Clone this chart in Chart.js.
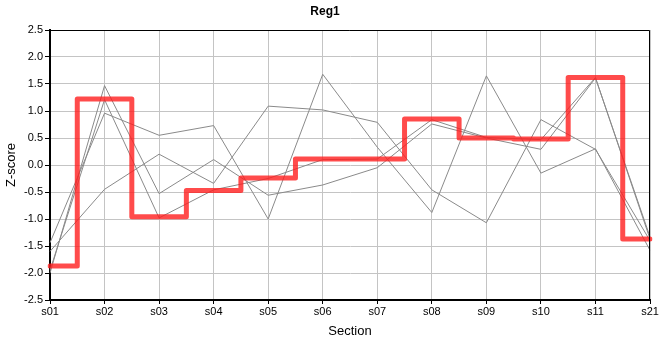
<!DOCTYPE html>
<html>
<head>
<meta charset="utf-8">
<script src="https://cdn.jsdelivr.net/npm/chart.js@4"></script>
<style>
  html, body { margin: 0; padding: 0; background: #fff; }
  #wrap { width: 660px; height: 360px; }
</style>
</head>
<body>
<div id="wrap"><canvas id="chart" width="660" height="360"></canvas></div>
<script>
const sections = ['s01','s02','s03','s04','s05','s06','s07','s08','s09','s10','s11','s21'];

// highlighted series (red, stepped)
const selected = [-1.87, 1.22, -0.96, -0.47, -0.24, 0.11, 0.11, 0.85, 0.50, 0.48, 1.62, -1.37];

// the other series (grey)
const seriesA = [-2.00, 1.47, -0.53, 0.10, -0.56, -0.37, -0.05, 0.76, 0.50, 0.29, 1.61, -1.33];
const seriesB = [-1.44, 0.96, 0.55, 0.73, -1.00, 1.68, 0.33, -0.88, 1.65, -0.15, 0.30, -1.58];
const seriesC = [-1.95, 1.21, -0.98, -0.46, -0.25, 0.10, 0.11, 0.84, 0.51, 0.47, 1.62, -1.37];
const seriesD = [-1.60, -0.45, 0.20, -0.34, 1.09, 1.02, 0.79, -0.46, -1.07, 0.84, 0.29, -1.40];

const yTicks = { min: -2.5, max: 2.5, step: 0.5 };

function greyLine(data){
    return {
        data: data,
        borderColor: '#8a8a8a',
        borderWidth: 1,
        pointRadius: 0,
        tension: 0,
        fill: false
    };
}

// thin frame on top and right of the plot
const frame = {
    id: 'frame',
    afterDatasetsDraw(chart){
        const a = chart.chartArea;
        const c = chart.ctx;
        c.save();
        c.strokeStyle = '#000';
        c.lineWidth = 1;
        c.beginPath();
        c.moveTo(a.left, a.top + 0.5);
        c.lineTo(a.right - 0.5, a.top + 0.5);
        c.lineTo(a.right - 0.5, a.bottom);
        c.stroke();
        c.restore();
    }
};

let ctx = document.getElementById('chart').getContext('2d');

new Chart(ctx, {
    type: 'line',
    data: {
        labels: sections,
        datasets: [
            {
                data: selected,
                borderColor: 'rgba(255,30,30,0.8)',
                borderWidth: 5,
                stepped: 'middle',
                pointRadius: 0,
                borderJoinStyle: 'round',
                borderCapStyle: 'round',
                fill: false
            },
            greyLine(seriesA),
            greyLine(seriesB),
            greyLine(seriesC),
            greyLine(seriesD)
        ]
    },
    plugins: [frame],
    options: {
        responsive: false,
        animation: false,
        layout: { padding: { left: 0, right: 10, top: 0, bottom: 0 } },
        plugins: {
            legend: { display: false },
            tooltip: { enabled: false },
            title: {
                display: true,
                text: 'Reg1',
                color: '#000',
                font: { family: 'Liberation Sans, Arial, sans-serif', size: 12, weight: 'bold' },
                padding: { top: 4, bottom: 11.6 }
            }
        },
        scales: {
            x: {
                grid: { color: '#c4c4c4', lineWidth: 1, tickLength: 4, tickColor: '#000' },
                border: { color: '#000', width: 2 },
                ticks: {
                    color: '#000',
                    font: { family: 'Liberation Sans, Arial, sans-serif', size: 11 },
                    maxRotation: 0,
                    autoSkip: false,
                    padding: 1
                },
                title: {
                    display: true,
                    text: 'Section',
                    color: '#000',
                    font: { family: 'Liberation Sans, Arial, sans-serif', size: 13 },
                    padding: { top: 0, bottom: 21 }
                },
                afterFit(scale){ scale.height = 60; }
            },
            y: {
                min: yTicks.min,
                max: yTicks.max,
                grid: { color: '#c4c4c4', lineWidth: 1, tickLength: 5, tickColor: '#000' },
                border: { color: '#000', width: 2 },
                ticks: {
                    stepSize: yTicks.step,
                    color: '#000',
                    font: { family: 'Liberation Sans, Arial, sans-serif', size: 11 },
                    padding: 2,
                    callback: v => v.toFixed(1)
                },
                title: {
                    display: true,
                    text: 'Z-score',
                    color: '#000',
                    font: { family: 'Liberation Sans, Arial, sans-serif', size: 13 },
                    padding: { top: 4, bottom: 0 }
                },
                afterFit(scale){ scale.width = 50; }
            }
        }
    }
});
</script>
</body>
</html>
